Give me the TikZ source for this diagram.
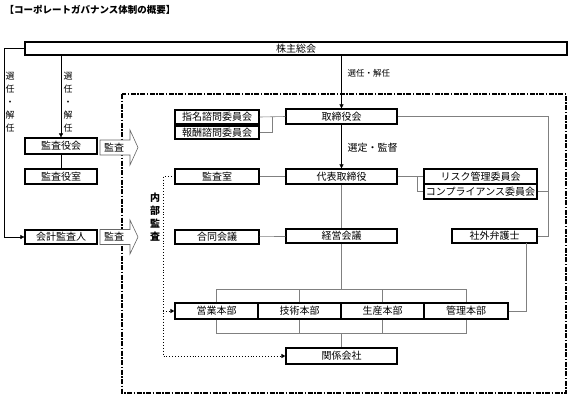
\documentclass[tikz,border=0pt]{standalone}
\usepackage{fontspec}
\setmainfont{Noto Sans CJK JP}
\usetikzlibrary{arrows.meta}
\begin{document}
\begin{tikzpicture}[x=1pt, y=-1pt,
	box/.style={draw, line width=1.2pt, fill=white, inner sep=0pt, font=\fontsize{10}{12}\selectfont},
	line/.style={draw=gray, line width=0.6pt},
	arr/.style={draw=black, line width=0.5pt, -{Triangle[length=4pt, width=4pt]}},
	dots/.style={draw=black, line width=0.9pt, dotted, -{Triangle[length=4pt, width=4pt]}},
	frame/.style={line width=1.1pt, dash pattern=on 5pt off 1.5pt on 1.5pt off 1.5pt},
	vlabel/.style={align=center, font=\fontsize{9}{13}\selectfont}]
	\useasboundingbox (0, 0) rectangle (569, 408);

	\node[anchor=west, font=\fontsize{9.5}{12}\selectfont\bfseries] (title) at (1, 10) {【コーポレートガバナンス体制の概要】};

	\draw[frame] (122, 94) rectangle (566, 393);

	\node[box, minimum width=542, minimum height=13] (soukai) at (296, 48.5) {株主総会};
	\node[box, minimum width=72, minimum height=16] (kansayakukai) at (61, 146) {監査役会};
	\node[box, minimum width=72, minimum height=15] (kansayakushitsu) at (61, 176.5) {監査役室};
	\node[box, minimum width=72, minimum height=14] (kaikei) at (61, 237) {会計監査人};

	\node[box, minimum width=111, minimum height=15] (tori) at (341.5, 116.5) {取締役会};
	\node[box, minimum width=84, minimum height=14] (shimei) at (217, 117) {指名諮問委員会};
	\node[box, minimum width=84, minimum height=13] (houshu) at (217, 132.5) {報酬諮問委員会};
	\node[box, minimum width=111, minimum height=15] (daihyo) at (341.5, 176.5) {代表取締役};
	\node[box, minimum width=84, minimum height=15] (kansashitsu) at (217, 176.5) {監査室};
	\node[box, minimum width=113, minimum height=15] (risk) at (480.5, 176.5) {リスク管理委員会};
	\node[box, minimum width=113, minimum height=15] (compliance) at (480.5, 191.5) {コンプライアンス委員会};
	\node[box, minimum width=84, minimum height=14] (goudou) at (217, 237) {合同会議};
	\node[box, minimum width=111, minimum height=14] (keiei) at (341.5, 236) {経営会議};
	\node[box, minimum width=85, minimum height=14] (shagai) at (494.5, 236) {社外弁護士};

	\node[box, minimum width=83, minimum height=16] (eigyo) at (216.5, 311) {営業本部};
	\node[box, minimum width=83, minimum height=16] (gijutsu) at (299.5, 311) {技術本部};
	\node[box, minimum width=83, minimum height=16] (seisan) at (382.5, 311) {生産本部};
	\node[box, minimum width=84, minimum height=16] (kanri) at (466, 311) {管理本部};
	\node[box, minimum width=111, minimum height=16] (kankei) at (341.5, 356) {関係会社};

	\coordinate (L) at (4, 48.5);
	\coordinate (R) at (548, 236);
	\coordinate (Top) at (341.5, 289);
	\coordinate (Bot) at (341.5, 333);
	\coordinate (D) at (163, 176.5);

	\draw[arr] (soukai.west) -- (L) |- (kaikei.west);
	\draw[arr] (soukai.south -| kansayakukai) -- (kansayakukai.north);
	\node[vlabel] (lab1) at (10, 102) {選\\任\\・\\解\\任};
	\node[vlabel] (lab2) at (68, 102) {選\\任\\・\\解\\任};
	\draw[draw=black, line width=0.6pt] (kansayakukai) -- (kansayakushitsu);

	\draw[draw=gray!80!black, fill=white, line width=0.6pt] (100, 140) -- (130, 140) -- (130, 130) -- (138, 147.5) -- (130, 165) -- (130, 155) -- (100, 155) -- cycle;
	\node[font=\fontsize{10}{12}\selectfont] (kansa1) at (114, 147.5) {監査};
	\draw[draw=gray!80!black, fill=white, line width=0.6pt] (100, 229.5) -- (130, 229.5) -- (130, 220) -- (138, 237) -- (130, 254) -- (130, 244.5) -- (100, 244.5) -- cycle;
	\node[font=\fontsize{10}{12}\selectfont] (kansa2) at (114, 237) {監査};

	\draw[arr] (soukai.south -| tori) -- (tori.north);
	\node[anchor=west, font=\fontsize{8.5}{10}\selectfont] (lab3) at (344, 73) {選任・解任};
	\draw[arr] (tori) -- (daihyo);
	\node[anchor=west, font=\fontsize{10}{12}\selectfont] (lab4) at (344, 148) {選定・監督};

	\draw[line] (shimei.east) -- (tori.west);
	\draw[line] (houshu.east) -| (272, 117);
	\draw[line] (kansashitsu) -- (daihyo);
	\draw[line] (daihyo) -- (risk);
	\draw[line] (417, 176.5) |- (compliance.west);
	\draw[line] (tori.east) -| (R) -- (shagai.east);
	\draw[line] (compliance.east) -- (compliance.east -| R);
	\draw[line] (goudou) -- (keiei);
	\draw[line] (daihyo) -- (keiei);
	\draw[line] (keiei.south) -- (Top);
	\draw[line] (eigyo.north) -- (eigyo.north |- Top) -- (kanri.north |- Top) -- (kanri.north);
	\draw[line] (gijutsu.north) -- (gijutsu.north |- Top);
	\draw[line] (seisan.north) -- (seisan.north |- Top);
	\draw[line] (eigyo.south) -- (eigyo.south |- Bot) -- (kanri.south |- Bot) -- (kanri.south);
	\draw[line] (gijutsu.south) -- (gijutsu.south |- Bot);
	\draw[line] (seisan.south) -- (seisan.south |- Bot);
	\draw[line] (Bot) -- (kankei.north);
	\draw[line] (kanri.east) -| (526, 243);

	\draw[dots] (kansashitsu.west) -- (D) |- (kankei.west);
	\draw[dots] (eigyo.west -| D) -- (eigyo.west);
	\node[vlabel, font=\fontsize{10}{13}\selectfont\bfseries] (naibu) at (155, 217) {内\\部\\監\\査};
\end{tikzpicture}
\end{document}
